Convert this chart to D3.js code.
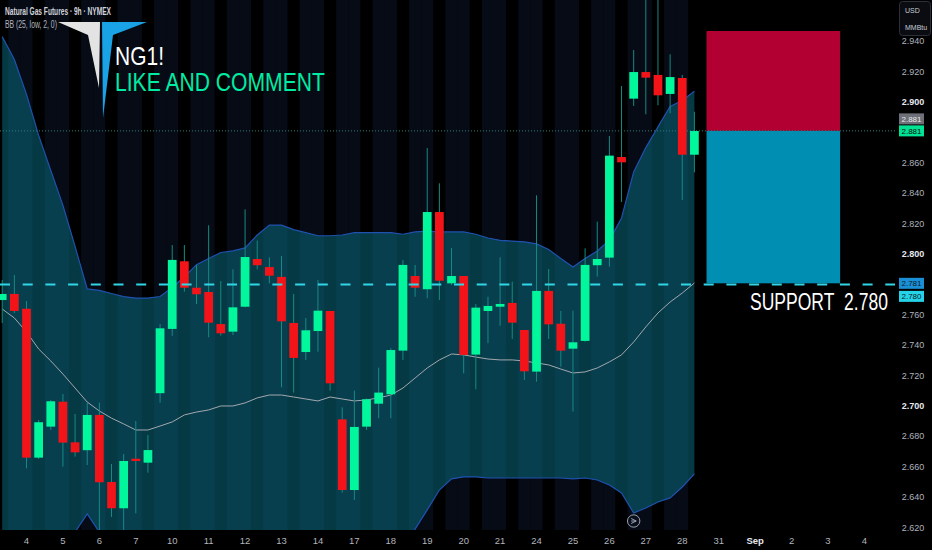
<!DOCTYPE html>
<html>
<head>
<meta charset="utf-8">
<script src="https://cdn.jsdelivr.net/npm/d3@7"></script>
<style>
  body { margin: 0; background: #000; overflow: hidden; }
</style>
</head>
<body>
<div id="chart"></div>
<script>
// 9h candles, NG1!
const opens  = [2.7697,2.7737,2.764,2.666,2.6864,2.7028,2.6761,2.6709,2.6941,2.650,2.6327,2.6653,2.6627,2.7084,2.7507,2.7952,2.7778,2.775,2.7539,2.7489,2.7653,2.7967,2.7914,2.7849,2.7546,2.7355,2.7493,2.7625,2.6912,2.6447,2.6864,2.7015,2.7077,2.7364,2.7855,2.7768,2.8276,2.7807,2.7855,2.7338,2.7625,2.7653,2.7678,2.75,2.7226,2.7757,2.7541,2.7377,2.7428,2.7926,2.7976,2.8638,2.9022,2.9197,2.9178,2.9053,2.9158,2.8653]
const highs  = [2.7829,2.7862,2.769,2.6908,2.704,2.7079,2.6947,2.7022,2.7022,2.6618,2.6684,2.6901,2.6809,2.7539,2.8059,2.8059,2.7928,2.8189,2.7822,2.7899,2.8294,2.8088,2.7978,2.7987,2.7737,2.7579,2.7829,2.7625,2.6991,2.7101,2.705,2.7252,2.738,2.7961,2.7928,2.8697,2.8465,2.8039,2.7855,2.7671,2.7719,2.7978,2.7818,2.75,2.8386,2.7901,2.7625,2.7627,2.8037,2.8213,2.8776,2.9105,2.9342,2.975,2.975,2.9314,2.9178,2.8936]
const lows   = [2.7546,2.7612,2.659,2.6651,2.6842,2.6601,2.6667,2.6612,2.616,2.627,2.616,2.6294,2.6561,2.7022,2.7461,2.7752,2.7671,2.7452,2.7463,2.7467,2.7649,2.7899,2.7807,2.7123,2.7088,2.7303,2.7357,2.7101,2.643,2.6382,2.6842,2.6919,2.6919,2.7303,2.7719,2.7709,2.7697,2.7796,2.7215,2.711,2.7413,2.7528,2.7441,2.7171,2.716,2.7441,2.7259,2.6963,2.7423,2.7851,2.7916,2.8342,2.8974,2.8919,2.8978,2.8926,2.8355,2.8537]
const closes = [2.7737,2.7625,2.666,2.6893,2.7031,2.6759,2.6695,2.6941,2.6498,2.6327,2.6638,2.6638,2.671,2.7511,2.7961,2.7778,2.7735,2.7548,2.7478,2.7649,2.798,2.7926,2.7857,2.7557,2.7316,2.7498,2.7627,2.7149,2.6447,2.6862,2.7044,2.7088,2.7368,2.7928,2.7778,2.8276,2.7824,2.7855,2.7336,2.7647,2.7658,2.7671,2.7548,2.7228,2.7757,2.7537,2.7364,2.7419,2.7928,2.7967,2.8647,2.8603,2.9197,2.916,2.9044,2.9164,2.8653,2.8809]

// BB (25, low, 2, 0) as drawn
const bbUpper = [2.943,2.928,2.905,2.878,2.855,2.832,2.805,2.777,2.776,2.774,2.772,2.771,2.771,2.772,2.778,2.785,2.793,2.797,2.801,2.802,2.804,2.8125,2.819,2.819,2.816,2.814,2.812,2.812,2.8125,2.814,2.814,2.814,2.814,2.813,2.8145,2.815,2.8145,2.8145,2.8145,2.813,2.8105,2.809,2.8085,2.808,2.8066,2.803,2.797,2.7914,2.797,2.802,2.809,2.8237,2.854,2.870,2.8836,2.897,2.901,2.907]
const bbLower = [2.5855,2.589,2.592,2.597,2.604,2.6086,2.617,2.629,2.617,2.6066,2.5987,2.592,2.587,2.583,2.579,2.5776,2.5763,2.575,2.5737,2.5737,2.575,2.5776,2.579,2.579,2.5776,2.575,2.5724,2.5724,2.5737,2.5776,2.5822,2.589,2.597,2.6079,2.619,2.6316,2.6447,2.652,2.6533,2.6533,2.6526,2.6526,2.6526,2.6526,2.6526,2.6526,2.6526,2.652,2.6526,2.6513,2.648,2.6428,2.6296,2.6329,2.6368,2.6395,2.6467,2.6553]
const bbBasis = [2.7638,2.7579,2.7487,2.7375,2.7296,2.721,2.7118,2.7026,2.6967,2.692,2.6882,2.6842,2.6842,2.6868,2.6895,2.6941,2.696,2.6974,2.70,2.70,2.702,2.7053,2.7072,2.7072,2.7059,2.7046,2.7033,2.7059,2.7046,2.7033,2.704,2.7053,2.7072,2.7118,2.7184,2.725,2.7303,2.7342,2.7336,2.7322,2.7309,2.7303,2.7303,2.7296,2.7283,2.727,2.7243,2.7217,2.7224,2.725,2.729,2.7336,2.7421,2.752,2.7612,2.7684,2.7743,2.7809]

// time axis: one label per day, every 3rd bar starting at bar 2
const dayLabels = ["4","5","6","7","10","11","12","13","14","17","18","19","20","21","24","25","26","27","28","31","Sep","2","3","4"]
const priceTicks = d3.range(2.62, 2.9401, 0.02)

const lastPrice = 2.881
const supportPrice = 2.780
const riskTop = 2.9467, entryPrice = 2.881, targetPrice = 2.7807
const boxFromBar = 58, boxToBar = 69
const eventBars = [52]

const width = 932, height = 550
const plotW = 895, plotH = 530

const svg = d3.select("#chart").append("svg")
    .attr("width", width)
    .attr("height", height)
    .style("background", "#000")
    .style("font-family", "'Liberation Sans', Arial, sans-serif")

svg.append("defs").append("clipPath").attr("id", "plotclip")
    .append("rect").attr("width", plotW).attr("height", plotH)

const x = d3.scaleLinear().domain([0, 57]).range([2.21, 694.4])
const y = d3.scaleLinear().domain([2.6184, 2.9671]).range([plotH, 0])
const step = x(1) - x(0)
const bars = d3.range(opens.length)

const plot = svg.append("g").attr("clip-path", "url(#plotclip)")

// session stripes
plot.append("g").selectAll("rect")
    .data(bars)
    .join("rect")
    .attr("x", i => x(i - 0.5))
    .attr("width", step + 0.3)
    .attr("y", 0)
    .attr("height", plotH)
    .attr("fill", i => i % 3 === 0 ? "#000000" : "#060b16")

// bollinger fill + lines
const area = d3.area()
    .x(i => x(i))
    .y0(i => y(bbLower[i]))
    .y1(i => y(bbUpper[i]))
plot.append("path")
    .attr("d", area(bars))
    .attr("fill", "#0a7e94")
    .attr("fill-opacity", 0.46)

const bandLine = arr => d3.line().x(i => x(i)).y(i => y(arr[i]))(bars)
plot.append("path").attr("d", bandLine(bbUpper))
    .attr("fill", "none").attr("stroke", "#1f52b0").attr("stroke-width", 1.2)
plot.append("path").attr("d", bandLine(bbLower))
    .attr("fill", "none").attr("stroke", "#1f52b0").attr("stroke-width", 1.2)
plot.append("path").attr("d", bandLine(bbBasis))
    .attr("fill", "none").attr("stroke", "#a3a7ae").attr("stroke-width", 1)

// long position box
plot.append("rect")
    .attr("x", x(boxFromBar)).attr("width", x(boxToBar) - x(boxFromBar))
    .attr("y", y(riskTop)).attr("height", y(entryPrice) - y(riskTop))
    .attr("fill", "#b30032")
plot.append("rect")
    .attr("x", x(boxFromBar)).attr("width", x(boxToBar) - x(boxFromBar))
    .attr("y", y(entryPrice)).attr("height", y(targetPrice) - y(entryPrice))
    .attr("fill", "#008fb2")

// last price dotted line
plot.append("line")
    .attr("x1", 0).attr("x2", plotW)
    .attr("y1", y(lastPrice)).attr("y2", y(lastPrice))
    .attr("stroke", "#2f7d78").attr("stroke-width", 1)
    .attr("stroke-dasharray", "1,2")

// candles
const candles = plot.append("g").selectAll("g")
    .data(bars)
    .join("g")
candles.append("line")
    .attr("x1", i => x(i)).attr("x2", i => x(i))
    .attr("y1", i => y(highs[i])).attr("y2", i => y(lows[i]))
    .attr("stroke", "#178a82").attr("stroke-width", 1)
candles.append("rect")
    .attr("x", i => x(i) - step * 0.36)
    .attr("width", step * 0.72)
    .attr("y", i => y(Math.max(opens[i], closes[i])))
    .attr("height", i => Math.max(1, Math.abs(y(opens[i]) - y(closes[i]))))
    .attr("fill", i => closes[i] >= opens[i] ? "#02f69c" : "#f21418")

// support line
plot.append("line")
    .attr("x1", 0).attr("x2", plotW)
    .attr("y1", y(supportPrice)).attr("y2", y(supportPrice))
    .attr("stroke", "#30d5e6").attr("stroke-width", 2)
    .attr("stroke-dasharray", "10,12.7")

// event marker
const ev = plot.append("g").selectAll("g").data(eventBars).join("g")
    .attr("transform", i => `translate(${x(i)},${plotH - 9})`)
ev.append("circle").attr("r", 6.2)
    .attr("fill", "#0a0f1a").attr("stroke", "#9aa3b5").attr("stroke-width", 1)
ev.append("path").attr("d", "M-2.5,-2.5 L2.5,0 L-2.5,2.5 M-2.5,0 L2.5,0")
    .attr("fill", "none").attr("stroke", "#9aa3b5").attr("stroke-width", 1)

// logo
svg.append("polygon").attr("points", "58,22 100,22 99,88 88,35").attr("fill", "#e3e3e3")
svg.append("polygon").attr("points", "102,22 147,22 113,35 103,118").attr("fill", "#19a2e6")

// narrow text: squeeze a normal font horizontally to the wanted width
function narrowText(tx, ty, size, w, color, str, weight) {
    const t = svg.append("text")
        .attr("font-size", size).attr("fill", color)
        .attr("font-weight", weight || 400)
        .text(str)
    const natural = t.node().getComputedTextLength()
    t.attr("transform", `translate(${tx},${ty}) scale(${w / natural},1)`)
    return t
}

// header
narrowText(5, 15, 10, 106, "#d1d4dc", "Natural Gas Futures · 9h · NYMEX", 600)
narrowText(5, 28, 10, 52, "#b2b5be", "BB (25, low, 2, 0)")

narrowText(115, 65, 25, 49, "#ffffff", "NG1!")
narrowText(115, 91, 25.5, 210, "#00eca3", "LIKE AND COMMENT")

narrowText(750, y(supportPrice) + 26, 23, 138, "#ffffff", "SUPPORT\u00a0\u00a02.780")

// price axis
const tags = [
    {v: lastPrice, pos: y(lastPrice) - 12, bg: "#6e7079", fg: "#e8e8e8"},
    {v: lastPrice, pos: y(lastPrice), bg: "#00e394", fg: "#0b0b0b"},
    {v: targetPrice, pos: y(targetPrice), bg: "#1b8fd6", fg: "#0b1a2a"},
    {v: supportPrice, pos: y(supportPrice) + 12, bg: "#25d3e8", fg: "#0b1a2a"}
]
const fmt = d3.format(".3f")
const axis = svg.append("g").attr("font-size", 9)
axis.selectAll("text")
    .data(priceTicks.filter(p => tags.every(t => Math.abs(y(p) - t.pos) > 9)))
    .join("text")
    .attr("x", 913).attr("y", p => y(p) + 3)
    .attr("text-anchor", "middle")
    .attr("font-weight", p => Math.round(p * 1000) % 100 === 0 ? 700 : 400)
    .attr("fill", p => Math.round(p * 1000) % 100 === 0 ? "#e6e8ee" : "#aeb2bc")
    .text(p => fmt(p))

const tag = axis.selectAll("g.tag").data(tags).join("g").attr("class", "tag")
tag.append("rect")
    .attr("x", 899).attr("width", 25)
    .attr("y", t => t.pos - 5.5).attr("height", 11)
    .attr("fill", t => t.bg)
tag.append("text")
    .attr("x", 911.5).attr("y", t => t.pos + 2.8)
    .attr("text-anchor", "middle").attr("font-size", 8)
    .attr("fill", t => t.fg)
    .text(t => fmt(t.v))

svg.append("rect").attr("x", 899.5).attr("y", 1.5).attr("width", 31).attr("height", 34)
    .attr("rx", 3).attr("fill", "#0a0c12").attr("stroke", "#2c303a")
svg.append("text").attr("x", 905).attr("y", 13).attr("font-size", 7).attr("fill", "#c8ccd4").text("USD")
svg.append("text").attr("x", 905).attr("y", 30).attr("font-size", 7).attr("fill", "#c8ccd4").text("MMBtu")

// time axis
svg.append("g").selectAll("text")
    .data(dayLabels)
    .join("text")
    .attr("x", (d, k) => x(2 + 3 * k))
    .attr("y", 544)
    .attr("text-anchor", "middle")
    .attr("font-size", 9.5)
    .attr("font-weight", d => d === "Sep" ? 700 : 400)
    .attr("fill", d => d === "Sep" ? "#e6e8ee" : "#b2b5be")
    .text(d => d)
</script>
</body>
</html>
